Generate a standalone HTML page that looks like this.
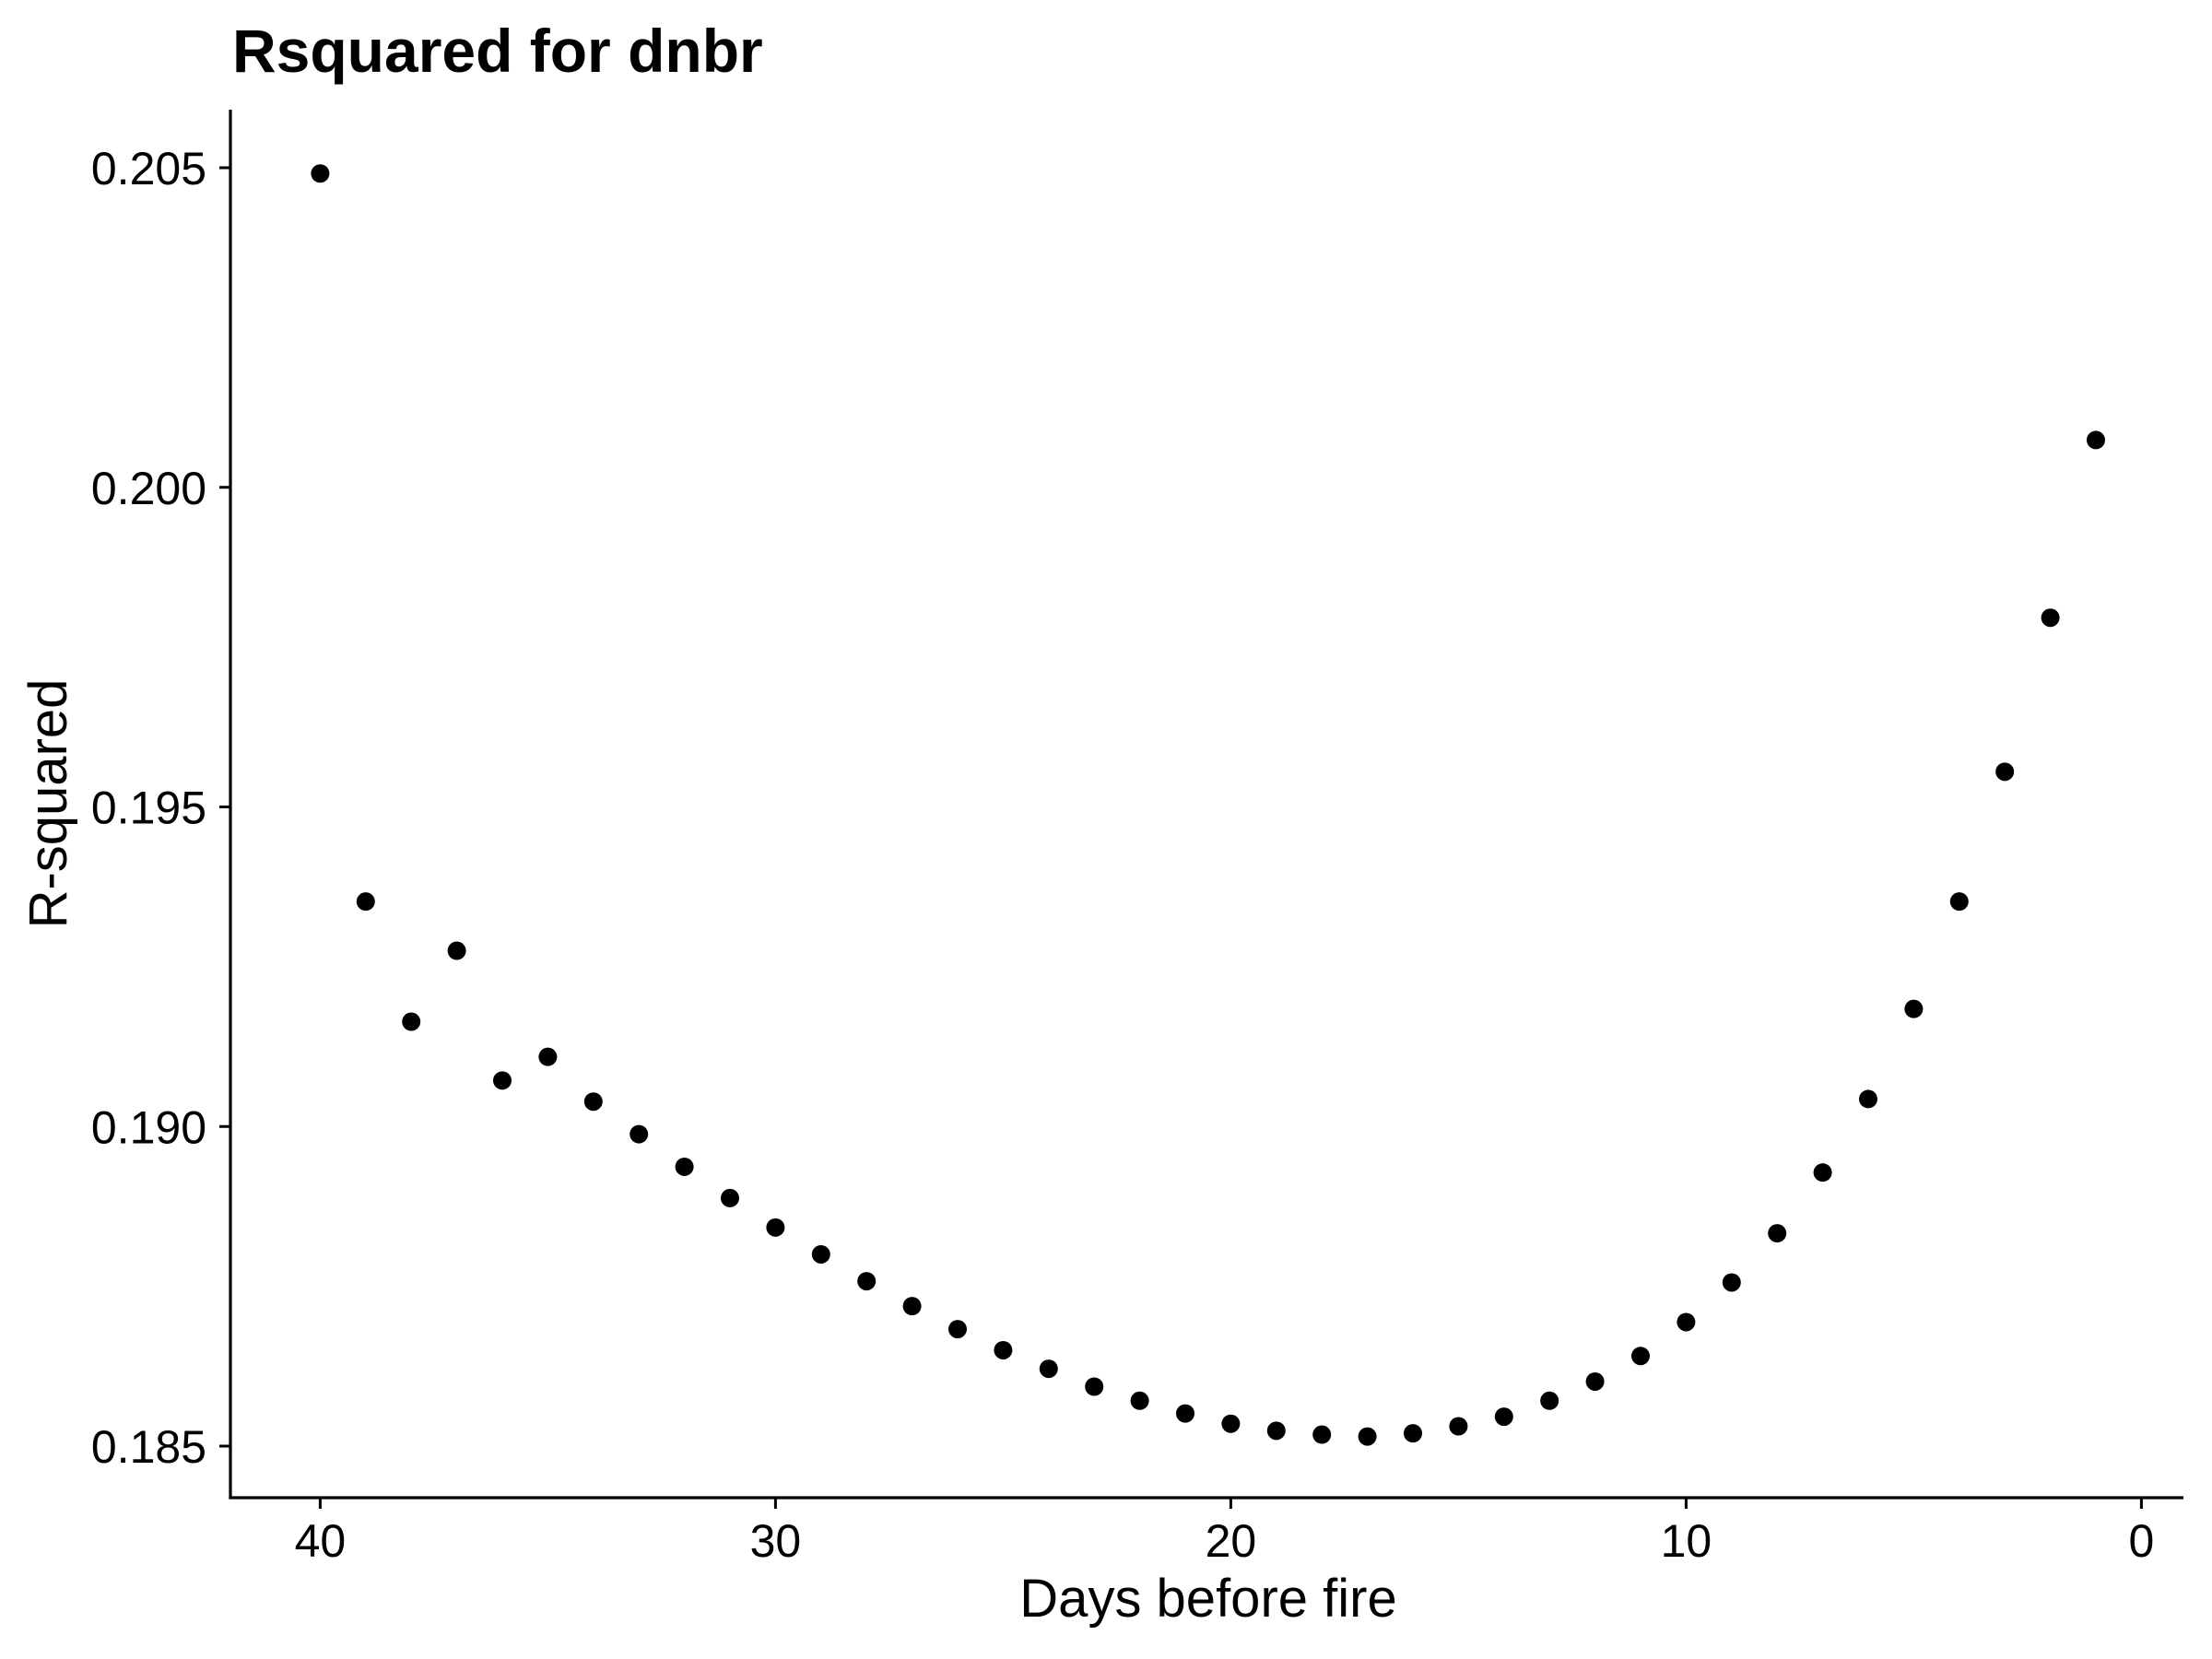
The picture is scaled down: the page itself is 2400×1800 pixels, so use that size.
<!DOCTYPE html>
<html><head><meta charset="utf-8"><style>
html,body{margin:0;padding:0;background:#fff;}
svg{display:block;font-family:"Liberation Sans",Arial,sans-serif;}
</style></head><body>
<svg id="chart" width="2400" height="1800" viewBox="0 0 2400 1800">
<rect width="2400" height="1800" fill="#fff"/>
<text x="252" y="78" font-size="66" font-weight="bold">Rsquared for dnbr</text>
<g id="axes"></g>
<g id="points"></g>
<text x="1311" y="1754" font-size="58" text-anchor="middle">Days before fire</text>
<text transform="translate(72,872) rotate(-90)" font-size="58" text-anchor="middle">R-squared</text>
</svg>
<script>
const days = [40,39,38,37,36,35,34,33,32,31,30,29,28,27,26,25,24,23,22,21,20,19,18,17,16,15,14,13,12,11,10,9,8,7,6,5,4,3,2,1];
const rsq = [0.20491,0.19352,0.19164,0.19275,0.19072,0.19109,0.19039,0.18988,0.18937,0.18888,0.18842,0.18800,0.18758,0.18719,0.18683,0.18650,0.18621,0.18593,0.18571,0.18551,0.18535,0.18524,0.18518,0.18515,0.18520,0.18531,0.18546,0.18571,0.18601,0.18641,0.18694,0.18756,0.18833,0.18928,0.19043,0.19184,0.19352,0.19555,0.19796,0.20074];
const xTicks = [40,30,20,10,0];
const yTicks = [0.205,0.200,0.195,0.190,0.185];
const yTickLabels = ["0.205","0.200","0.195","0.190","0.185"];

function xScale(d){ return 347.4 + (40 - d) * 49.4; }
function yScale(v){ return 182 + (0.205 - v) / 0.005 * 346.75; }

const NS = "http://www.w3.org/2000/svg";
const axes = document.getElementById('axes');
const pts = document.getElementById('points');
function mk(tag, attrs, parent){ const e=document.createElementNS(NS,tag); for(const k in attrs) e.setAttribute(k,attrs[k]); parent.appendChild(e); return e; }

const yl = mk('line',{x1:250,y1:119,x2:250,y2:1626,stroke:'#000','stroke-width':3.2},axes);


const xl = mk('line',{x1:248.4,y1:1625,x2:2369,y2:1625,stroke:'#000','stroke-width':3.2},axes);



xTicks.forEach(t=>{
  const x = xScale(t);
  const tk = mk('line',{x1:x,y1:1625,x2:x,y2:1637,stroke:'#000','stroke-width':3},axes);
  
  
  const lb = mk('text',{x:x,y:1689,'font-size':50,'text-anchor':'middle',fill:'#000'},axes);
  lb.textContent = String(t);
  
  
});
yTicks.forEach((t,i)=>{
  const y = yScale(t);
  const tk = mk('line',{x1:238,y1:y,x2:250,y2:y,stroke:'#000','stroke-width':3},axes);
  
  
  const lb = mk('text',{x:224,y:y+18,'font-size':50,'text-anchor':'end',fill:'#000'},axes);
  lb.textContent = yTickLabels[i];
  
  
});
days.forEach((d,i)=>{
  const c = mk('circle',{cx:xScale(d),cy:yScale(rsq[i]),r:10,fill:'#000'},pts);
  
  
});
</script>
</body></html>
